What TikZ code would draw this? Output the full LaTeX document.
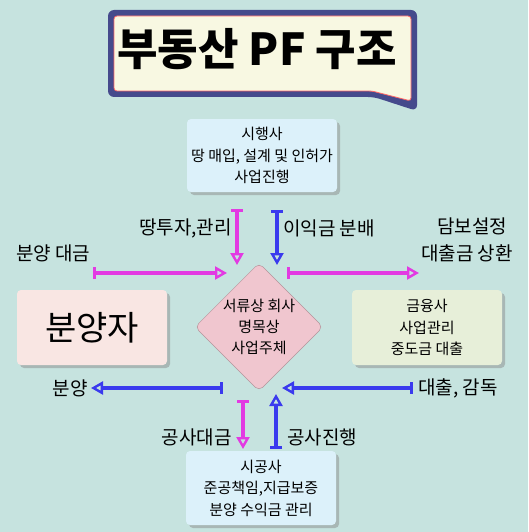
\documentclass[tikz,border=0pt]{standalone}
\usepackage{fontspec}
\setmainfont{Noto Sans CJK KR}
\usetikzlibrary{arrows.meta,shapes.geometric,shadows}
\definecolor{bgteal}{HTML}{C6E3DF}
\definecolor{navy}{HTML}{454A8C}
\definecolor{cream}{HTML}{F8F8E2}
\definecolor{skyfill}{HTML}{DCF1FA}
\definecolor{rosefill}{HTML}{F0C6CF}
\definecolor{peachfill}{HTML}{F9E6E3}
\definecolor{leaffill}{HTML}{E7EFD9}
\definecolor{magenta2}{HTML}{E23AE2}
\definecolor{blue2}{HTML}{3A3AEE}
\tikzstyle{box}=[rounded corners=4pt, minimum width=150pt, align=center,
  font=\fontsize{15}{21.5}\selectfont, inner sep=0pt,
  drop shadow={shadow xshift=3pt, shadow yshift=-3pt, fill=black!45}]
\tikzstyle{edge}=[draw, line width=3.6pt,
  {Bar[width=12pt,line width=2.6pt]}-{Triangle[open,length=12pt,width=13pt,line width=2.4pt]}]
\tikzstyle{note}=[font=\fontsize{19}{22}\selectfont, inner sep=0pt]

\begin{document}
\begin{tikzpicture}[x=1pt, y=-1pt]
  \useasboundingbox (0,0) rectangle (528,532);
  \fill[bgteal] (0,0) rectangle (528,532);

  % title bubble
  \fill[navy, rounded corners=6pt] (108,10) -- (417,10) -- (417,111) -- (374,97) -- (108,97) -- cycle;
  \filldraw[fill=cream, draw=red!60, line width=0.8pt, rounded corners=3pt]
    (114,16) -- (411,16) -- (411,101) -- (372,91) -- (114,91) -- cycle;
  \node[font=\fontsize{44}{48}\selectfont\bfseries] (title) at (257,49) {부동산 PF 구조};

  % First we draw the boxes
  \node[box, fill=skyfill, minimum height=73pt] (developer) at (262,155.5) {시행사\\땅 매입, 설계 및 인허가\\사업진행};
  \node[box, fill=peachfill, minimum height=75pt, font=\fontsize{34}{36}\selectfont] (buyer) at (92,327.5) {분양자};
  \node[box, fill=leaffill, minimum height=75pt] (bank) at (427,327.5) {금융사\\사업관리\\중도금 대출};
  \node[box, fill=skyfill, minimum height=74pt] (builder) at (261,488) {시공사\\준공책임,지급보증\\분양 수익금 관리};
  \node[diamond, fill=rosefill, draw=rosefill!75!black, line width=0.5pt, rounded corners=5pt,
    minimum width=128pt, minimum height=128pt, inner sep=0pt, align=center,
    font=\fontsize{15}{21}\selectfont] (spc) at (259,327) {서류상 회사\\명목상\\사업주체};

  % arrow ends
  \foreach \pos/\name in {{(237,209)/d1}, {(237,265)/d2}, {(277,210)/i1}, {(277,265)/i2},
                          {(93,273)/s1}, {(227,273)/s2}, {(287,273)/r1}, {(419,273)/r2},
                          {(223,388)/b1}, {(91,388)/b2}, {(413,388)/l1}, {(282,388)/l2},
                          {(243,400)/c1}, {(243,449)/c2}, {(276,449)/w1}, {(276,394)/w2}}
    \node[coordinate] (\name) at \pos {};

  % Connect the ends
  \foreach \source/\dest in {d1/d2, s1/s2, r1/r2, c1/c2}
    \path[edge, magenta2] (\source) -- (\dest);
  \foreach \source/\dest in {i1/i2, b1/b2, l1/l2, w1/w2}
    \path[edge, blue2] (\source) -- (\dest);

  % labels
  \node[note, anchor=east] (landlbl) at (232,228) {땅투자,관리};
  \node[note, anchor=west] (profitlbl) at (283,228) {이익금 분배};
  \node[note, anchor=west] (paylbl) at (16,253) {분양 대금};
  \node[note] (pledgelbl) at (472,226) {담보설정};
  \node[note] (repaylbl) at (467,253) {대출금 상환};
  \node[note, anchor=east] (salelbl) at (88,388) {분양};
  \node[note, anchor=west] (loanlbl) at (418,388) {대출, 감독};
  \node[note, anchor=east] (costlbl) at (232,437) {공사대금};
  \node[note, anchor=west] (worklbl) at (287,437) {공사진행};
\end{tikzpicture}
\end{document}
